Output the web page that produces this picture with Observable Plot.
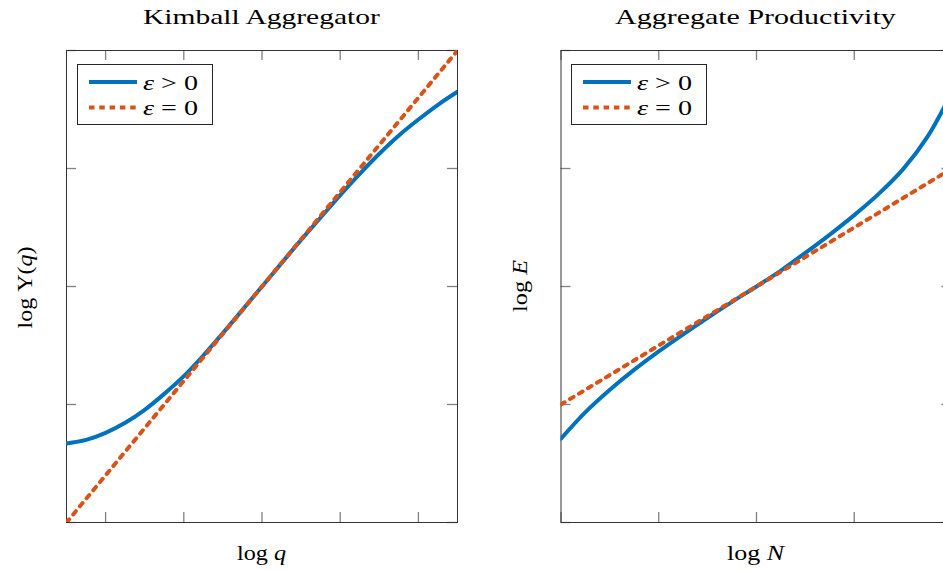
<!DOCTYPE html>
<html><head><meta charset="utf-8">
<script src="https://cdn.jsdelivr.net/npm/d3@7"></script>
<script src="https://cdn.jsdelivr.net/npm/@observablehq/plot@0.6"></script>
<style>
html,body{margin:0;padding:0;background:#fff;overflow:hidden;}
#wrap{position:relative;width:943px;height:571px;overflow:hidden;background:#fff;}
.panel{position:absolute;top:0;}
#overlay{position:absolute;left:0;top:0;}
</style></head><body><div id="wrap"></div>
<script>
// ---- Data ----
// Left panel: Kimball Aggregator (log q vs log Upsilon(q))
const kimballX = [-2.5,-2.25,-2.0,-1.75,-1.5,-1.25,-1.0,-0.75,-0.5,-0.25,0,0.25,0.5,0.75,1.0,1.25,1.5,1.75,2.0,2.25,2.5];
const kimballEpsPos = [-1.33,-1.30,-1.24,-1.155,-1.045,-0.91,-0.76,-0.585,-0.395,-0.198,0,0.198,0.395,0.585,0.775,0.955,1.125,1.28,1.415,1.54,1.65];
const kimballEpsZero = [-2.0,-1.8,-1.6,-1.4,-1.2,-1.0,-0.8,-0.6,-0.4,-0.2,0,0.2,0.4,0.6,0.8,1.0,1.2,1.4,1.6,1.8,2.0];
// Right panel: Aggregate Productivity (log N vs log E)
const prodX = [-2.0,-1.75,-1.5,-1.25,-1.0,-0.75,-0.5,-0.25,0,0.25,0.5,0.75,1.0,1.25,1.5,1.75,2.0];
const prodEpsPos = [-1.29,-1.065,-0.875,-0.705,-0.55,-0.405,-0.265,-0.13,0,0.135,0.285,0.44,0.605,0.785,0.995,1.27,1.65];
const prodEpsZero = [-1.0,-0.875,-0.75,-0.625,-0.5,-0.375,-0.25,-0.125,0,0.125,0.25,0.375,0.5,0.625,0.75,0.875,1.0];
// Tick positions (no labels shown)
const kimballXTicks = [-2,-1,0,1,2];
const prodXTicks = [-2,-1,0,1,2];
const yTicks = [-2,-1,0,1,2];
const titles = ["Kimball Aggregator", "Aggregate Productivity"];

const BLUE = "#0072BD", RED = "#D95319";
const H = 571, MT = 50, MB = 49;

function panel(xs, yPos, yZero, xDomain, xTicks, width, mL, mR) {
  const dPos = xs.map((x, i) => ({x, y: yPos[i]}));
  const dZero = xs.map((x, i) => ({x, y: yZero[i]}));
  const fw = width - mL - mR, fh = H - MT - MB;
  return Plot.plot({
    width, height: H, marginLeft: mL, marginRight: mR, marginTop: MT, marginBottom: MB,
    x: {domain: xDomain, axis: null},
    y: {domain: [-2, 2], axis: null},
    style: {background: "transparent", overflow: "visible"},
    marks: [
      Plot.ruleX(xTicks, {x: d => d, insetTop: fh - 10, stroke: "#808080", strokeWidth: 1.3}),
      Plot.ruleX(xTicks, {x: d => d, insetBottom: fh - 10, stroke: "#808080", strokeWidth: 1.3}),
      Plot.ruleY(yTicks, {y: d => d, insetRight: fw - 10, stroke: "#808080", strokeWidth: 1.3}),
      Plot.ruleY(yTicks, {y: d => d, insetLeft: fw - 10, stroke: "#808080", strokeWidth: 1.3}),
      Plot.frame({stroke: "#333", strokeWidth: 1}),
      Plot.line(dPos, {x: "x", y: "y", stroke: BLUE, strokeWidth: 4, curve: "catmull-rom", clip: true}),
      Plot.line(dZero, {x: "x", y: "y", stroke: RED, strokeWidth: 4, strokeDasharray: "4.2,6.3", curve: "linear", clip: true})
    ]
  });
}

const wrap = document.getElementById("wrap");
const left = panel(kimballX, kimballEpsPos, kimballEpsZero, [-2.5, 2.5], kimballXTicks, 470, 66, 13);
left.classList.add("panel"); left.style.left = "0px";
wrap.appendChild(left);
const right = panel(prodX, prodEpsPos, prodEpsZero, [-2, 2], prodXTicks, 480, 80.5, 8.5);
right.classList.add("panel"); right.style.left = "480px";
wrap.appendChild(right);

// ---- Text and legends overlay ----
const svg = d3.select("#wrap").append("svg").attr("id", "overlay").attr("width", 943).attr("height", H);
const FONT = "Liberation Serif";

function label(parts, {x, y, size, target, rotate = 0, center = true}) {
  const g = svg.append("g").attr("transform", `translate(${x},${y}) rotate(${rotate})`);
  const t = g.append("text").attr("font-family", FONT).attr("font-size", size).attr("fill", "#000");
  parts.forEach(p => t.append("tspan").attr("font-style", p.i ? "italic" : "normal").text(p.t));
  const len = t.node().getComputedTextLength();
  const s = target / len;
  t.attr("transform", `scale(${s},1)` + (center ? ` translate(${-len / 2},0)` : ""));
}

label([{t: titles[0]}], {x: 261.5, y: 23.5, size: 22, target: 237});
label([{t: titles[1]}], {x: 755.5, y: 23.5, size: 22, target: 281});
label([{t: "log "}, {t: "q", i: true}], {x: 261.5, y: 560, size: 20, target: 49});
label([{t: "log "}, {t: "N", i: true}], {x: 755.5, y: 560, size: 20, target: 57});
label([{t: "log \u03a5("}, {t: "q", i: true}, {t: ")"}], {x: 32, y: 287.5, size: 20, target: 82, rotate: -90});
label([{t: "log "}, {t: "E", i: true}], {x: 527, y: 286, size: 20, target: 52, rotate: -90});

function legend(ox) {
  svg.append("rect").attr("x", 77.5 + ox).attr("y", 64.5).attr("width", 135).attr("height", 60)
    .attr("fill", "#fff").attr("stroke", "#262626").attr("stroke-width", 1);
  svg.append("line").attr("x1", 89 + ox).attr("x2", 137 + ox).attr("y1", 82).attr("y2", 82)
    .attr("stroke", BLUE).attr("stroke-width", 4);
  svg.append("line").attr("x1", 89 + ox).attr("x2", 137 + ox).attr("y1", 107.5).attr("y2", 107.5)
    .attr("stroke", RED).attr("stroke-width", 4).attr("stroke-dasharray", "5.5,4.8");
  label([{t: "\u03b5", i: true}, {t: " > 0"}], {x: 143 + ox, y: 90, size: 20, target: 55, center: false});
  label([{t: "\u03b5", i: true}, {t: " = 0"}], {x: 143 + ox, y: 114.5, size: 20, target: 55, center: false});
}
legend(0);
legend(494);
</script>
</body></html>
